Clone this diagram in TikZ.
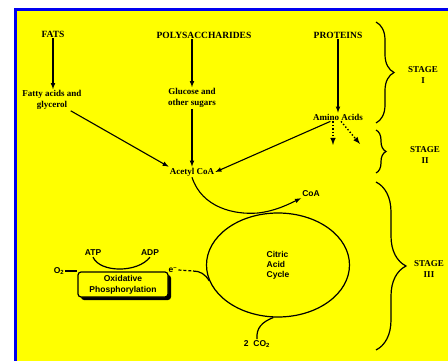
\documentclass[tikz,border=0pt]{standalone}
\usepackage{fontspec}
\setmainfont{Liberation Serif}
\setsansfont{Liberation Sans}
\usetikzlibrary{positioning, calc, shapes.geometric, decorations.pathreplacing, shadows}

\definecolor{bgyellow}{RGB}{255,255,0}
\definecolor{frameblue}{RGB}{0,0,240}

\begin{document}
\begin{tikzpicture}[
        % 1 unit = 1 pixel of the 448x361 frame, y running downwards
        x=1pt, y=-1pt,
        every node/.style={font=\bfseries\fontsize{9}{11}\selectfont, inner sep=1pt},
        source/.style={font=\bfseries\fontsize{9.5}{11}\selectfont},
        product/.style={align=center},
        innertext/.style={font=\sffamily\bfseries\fontsize{8.5}{10}\selectfont},
        stagelabel/.style={align=center},
        citric/.style={draw, ellipse, line width=1.2pt,
                       minimum width=143pt, minimum height=104pt,
                       align=left, font=\sffamily\bfseries\fontsize{8.5}{10}\selectfont},
        oxbox/.style={draw, line width=1.2pt, rounded corners=3pt, fill=bgyellow,
                      minimum width=90pt, minimum height=25pt, align=center,
                      font=\sffamily\bfseries\fontsize{8.5}{11}\selectfont,
                      drop shadow={shadow xshift=3pt, shadow yshift=-3pt,
                                   fill=black, opacity=1}},
        arrow/.style={-latex, line width=1.1pt},
        dotarrow/.style={-latex, line width=1.4pt, dotted},
        link/.style={line width=1.2pt},
        stagebrace/.style={decorate, decoration={brace, amplitude=#1}, line width=1.2pt}
    ]

    % --- Frame ---
    \useasboundingbox (0,0) rectangle (448,361);
    \fill[white] (0,0) rectangle (448,361);
    \clip (0,0) rectangle (448,361);
    \draw[frameblue, line width=3pt, fill=bgyellow] (15.5,9.5) rectangle (470,380);

    % --- Sources ---
    \node[source] (fats) at (53,34) {FATS};
    \node[source] (poly) at (204,35) {POLYSACCHARIDES};
    \node[source] (prot) at (338,35) {PROTEINS};

    % --- Building blocks ---
    \node[product] (fatty) at (52,100) {Fatty acids and\\glycerol};
    \node[product] (sugar) at (192,98) {Glucose and\\other sugars};
    \node (amino) at (338,117) {Amino Acids};
    \node (acetyl) at (192,172) {Acetyl CoA};

    % --- Cycle and respiration ---
    \node[innertext] (coa) at (311,194) {CoA};
    \node[citric] (cac) at (278,265) {Citric\\Acid\\Cycle};
    \node[innertext] (atp) at (93,253) {ATP};
    \node[innertext] (adp) at (150,253) {ADP};
    \node[oxbox] (ox) at (123,284.5) {Oxidative\\Phosphorylation};
    \node[innertext] (o2) at (59,271) {O\textsubscript{2}};
    \node[innertext] (eminus) at (173,270) {e\textsuperscript{--}};
    \node[innertext] (co2) at (257,344) {2\ \ CO\textsubscript{2}};
    \coordinate (ejoin) at (193,271);
    \coordinate (deam1) at (333,145);
    \coordinate (deam2) at (360,144);

    % --- Stages ---
    \node[stagelabel] (s1) at (423,75) {STAGE\\I};
    \node[stagelabel] (s2) at (425,155) {STAGE\\II};
    \node[stagelabel] (s3) at (429,269) {STAGE\\III};
    \draw[stagebrace=18] (376,22) -- (376,123);
    \draw[stagebrace=10] (376,130) -- (376,173);
    \draw[stagebrace=30] (376,182) -- (376,350);

    % --- Arrows ---
    \draw[arrow] (fats) -- (fats |- fatty.north);
    \draw[arrow] (sugar.north |- poly.south) -- (sugar.north);
    \draw[arrow] (prot) -- (amino);

    \draw[arrow] (fatty.-30) -- (acetyl.north west);
    \draw[arrow] (sugar) -- (acetyl);
    \draw[arrow] (amino.-150) -- (acetyl.east);

    \draw[dotarrow] (amino.south -| deam1) -- (deam1);
    \draw[dotarrow] ([xshift=3pt]amino.south) -- (deam2);

    % Acetyl CoA into the cycle, CoA released
    \draw[arrow] (acetyl.south) .. controls (202,208) and (235,215) .. (258,213)
        .. controls (275,211) and (287,205) .. (coa.south west);
    \draw[link] (cac.265) .. controls (262,322) and (256,328) .. (co2.north);

    % Electrons to oxidative phosphorylation
    \draw[link, densely dashed] (eminus.east) -- (ejoin);
    \draw[link] (ejoin) .. controls (200,271) and (205,274) .. (cac.193);
    \draw[link] (o2.east) -- (o2.east -| ox.north west);
    \draw[link] (atp.south) .. controls (100,273) and (138,273) .. (adp.south);

\end{tikzpicture}
\end{document}
